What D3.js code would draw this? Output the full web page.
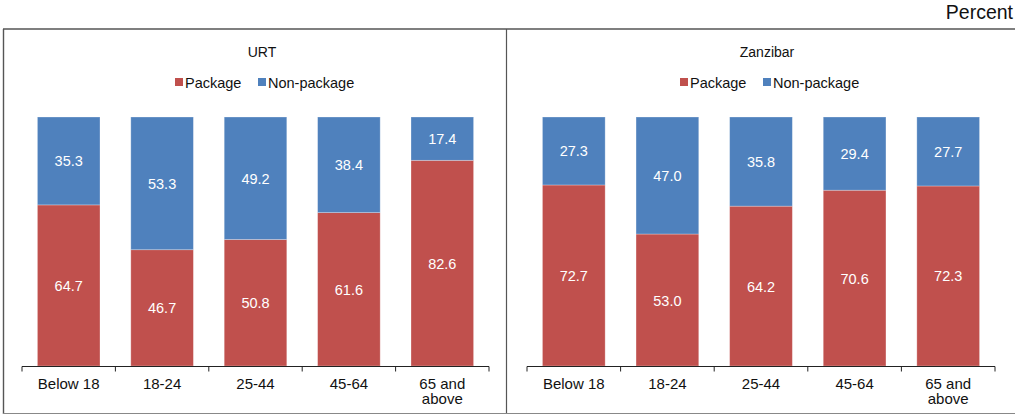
<!DOCTYPE html>
<html>
<head>
<meta charset="utf-8">
<script src="https://cdn.jsdelivr.net/npm/d3@7"></script>
<style>
  html, body { margin: 0; padding: 0; background: #fff; }
  svg { display: block; font-family: "Liberation Sans", Arial, Helvetica, sans-serif; }
</style>
</head>
<body>
<svg id="chart" width="1015" height="417"></svg>
<script>
// Age groups shown on the x axis
const categories = ["Below 18", "18-24", "25-44", "45-64", "65 and above"];
const seriesNames = ["Package", "Non-package"];
const seriesColors = ["#c0504d", "#4f81bd"];

// Percentages per panel
const urtPackage = [64.7, 46.7, 50.8, 61.6, 82.6];
const urtNonPackage = [35.3, 53.3, 49.2, 38.4, 17.4];
const zanPackage = [72.7, 53.0, 64.2, 70.6, 72.3];
const zanNonPackage = [27.3, 47.0, 35.8, 29.4, 27.7];

const panels = [
  { title: "URT", pkg: urtPackage, non: urtNonPackage, x0: 22, x1: 489, cx: 262 },
  { title: "Zanzibar", pkg: zanPackage, non: zanNonPackage, x0: 527, x1: 995, cx: 767 }
];

const svg = d3.select("#chart");

// Unit label
svg.append("text")
  .attr("x", 1013).attr("y", 19)
  .attr("text-anchor", "end")
  .attr("font-size", 19.5)
  .attr("fill", "#111")
  .text("Percent");

// Frame
svg.append("line").attr("x1", 3).attr("x2", 1015).attr("y1", 29).attr("y2", 29)
  .attr("stroke", "#555").attr("stroke-width", 1.6);
svg.append("line").attr("x1", 3.5).attr("x2", 3.5).attr("y1", 29).attr("y2", 414)
  .attr("stroke", "#555").attr("stroke-width", 1.4);
svg.append("line").attr("x1", 506.5).attr("x2", 506.5).attr("y1", 29).attr("y2", 414)
  .attr("stroke", "#555").attr("stroke-width", 1.2);
svg.append("line").attr("x1", 3).attr("x2", 1015).attr("y1", 413.5).attr("y2", 413.5)
  .attr("stroke", "#888").attr("stroke-width", 1);

const y = d3.scaleLinear().domain([0, 100]).range([366, 117]);

panels.forEach(p => {
  const g = svg.append("g");

  g.append("text")
    .attr("x", p.cx).attr("y", 57)
    .attr("text-anchor", "middle")
    .attr("font-size", 14)
    .attr("fill", "#111")
    .text(p.title);

  // Legend
  const legend = g.append("g").attr("transform", `translate(${p.cx - 87},82)`);
  const legendOffsets = [0, 83];
  seriesNames.forEach((name, i) => {
    const lg = legend.append("g").attr("transform", `translate(${legendOffsets[i]},0)`);
    lg.append("rect").attr("x", 0).attr("y", -4).attr("width", 8).attr("height", 8)
      .attr("fill", seriesColors[i]);
    lg.append("text").attr("x", 10).attr("y", 5.5)
      .attr("font-size", 14.5).attr("fill", "#111").text(name);
  });

  const x = d3.scaleBand().domain(categories).range([p.x0, p.x1])
    .paddingInner(0.33).paddingOuter(0.165);

  const rows = categories.map((c, i) => ({ cat: c, Package: p.pkg[i], "Non-package": p.non[i] }));
  const stacked = d3.stack().keys(seriesNames)(rows);

  stacked.forEach((layer, si) => {
    g.append("g").selectAll("rect").data(layer).join("rect")
      .attr("x", d => x(d.data.cat))
      .attr("width", x.bandwidth())
      .attr("y", d => y(d[1]))
      .attr("height", d => y(d[0]) - y(d[1]))
      .attr("fill", seriesColors[si])
      .attr("stroke", "rgba(255,255,255,0.35)")
      .attr("stroke-width", 0.8);

    g.append("g").selectAll("text").data(layer).join("text")
      .attr("x", d => x(d.data.cat) + x.bandwidth() / 2)
      .attr("y", d => (y(d[0]) + y(d[1])) / 2 + 5.5)
      .attr("text-anchor", "middle")
      .attr("font-size", 14.5)
      .attr("fill", "#fff")
      .text(d => (d[1] - d[0]).toFixed(1));
  });

  // X axis with ticks at category boundaries
  const axisG = g.append("g").attr("transform", "translate(0,366.5)");
  axisG.append("line").attr("x1", p.x0).attr("x2", p.x1)
    .attr("stroke", "#222").attr("stroke-width", 1);
  const step = (p.x1 - p.x0) / categories.length;
  d3.range(categories.length + 1).forEach(i => {
    axisG.append("line")
      .attr("x1", p.x0 + i * step).attr("x2", p.x0 + i * step)
      .attr("y1", 0).attr("y2", 5)
      .attr("stroke", "#222");
  });
  categories.forEach(c => {
    const t = axisG.append("text")
      .attr("x", x(c) + x.bandwidth() / 2)
      .attr("y", 22)
      .attr("text-anchor", "middle")
      .attr("font-size", 15)
      .attr("fill", "#111");
    const parts = c === "65 and above" ? ["65 and", "above"] : [c];
    parts.forEach((s, k) => {
      t.append("tspan").attr("x", x(c) + x.bandwidth() / 2)
        .attr("dy", k === 0 ? 0 : 15.5).text(s);
    });
  });
});
</script>
</body>
</html>
